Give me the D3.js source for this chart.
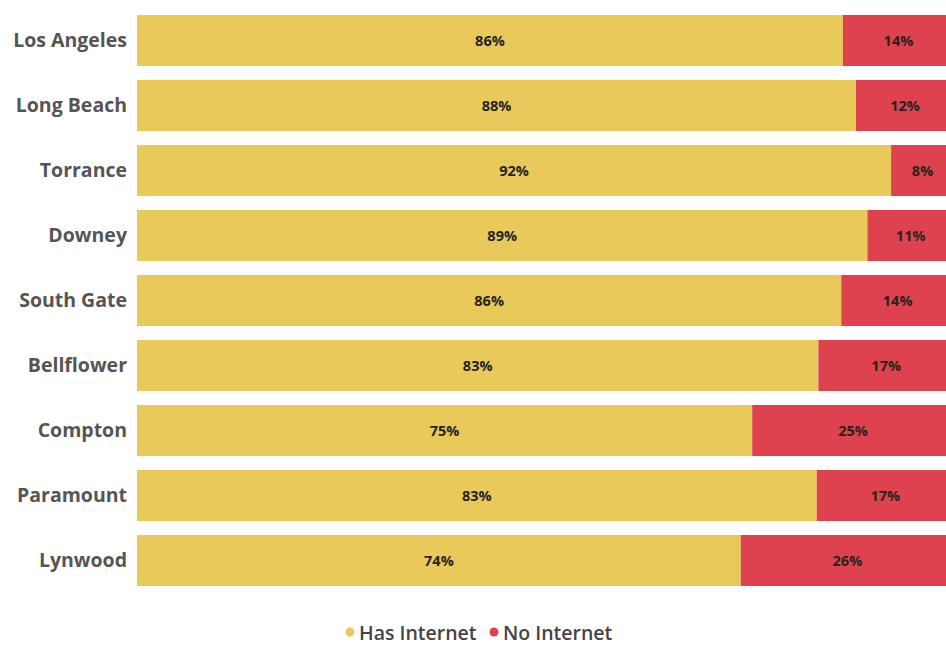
<!DOCTYPE html>
<html><head><meta charset="utf-8">
<script src="https://cdn.jsdelivr.net/npm/d3@7"></script>
<style>body{margin:0;background:#fff}svg{display:block}</style>
</head><body>
<svg id="c" width="946" height="645"></svg>
<script>
const categories = ["Los Angeles","Long Beach","Torrance","Downey","South Gate","Bellflower","Compton","Paramount","Lynwood"];
const hasInternet = [86.4, 88.0, 92.3, 89.4, 86.2, 83.4, 75.3, 83.2, 73.9];
const noInternet  = [13.6, 12.0,  7.7, 10.6, 13.8, 16.6, 24.7, 16.8, 26.1];
const seriesNames = ["Has Internet","No Internet"];
const colors = ["#E8C95A","#DF424F"];

const svg = d3.select("#c");
const x = d3.scaleLinear().domain([0,100]).range([137,954]);
const y = d3.scaleBand().domain(categories).range([8,593]).paddingInner(14/65).paddingOuter(7/65);

const rows = categories.map((c,i)=>({cat:c, has:hasInternet[i], no:noInternet[i]}));
const stack = d3.stack().keys(["has","no"])(rows);

const g = svg.append("g");
stack.forEach((layer,li)=>{
  g.selectAll(null).data(layer).enter().append("rect")
    .attr("x",d=>x(d[0])).attr("width",d=>x(d[1])-x(d[0]))
    .attr("y",d=>y(d.data.cat)).attr("height",y.bandwidth())
    .attr("fill",colors[li]);
  g.selectAll(null).data(layer).enter().append("text")
    .attr("x",d=>(x(d[0])+x(d[1]))/2).attr("y",d=>y(d.data.cat)+y.bandwidth()/2)
    .attr("text-anchor","middle").attr("dominant-baseline","central")
    .attr("font-family","'Open Sans', sans-serif").attr("font-weight","bold").attr("font-size",14.5)
    .attr("fill","#252423")
    .text(d=>Math.round(d[1]-d[0])+"%");
});

const yAxis = d3.axisLeft(y).tickSize(0).tickPadding(10);
const ax = svg.append("g").attr("transform","translate(137,0)").call(yAxis);
ax.select(".domain").remove();
ax.selectAll("text").attr("font-family","'Open Sans', sans-serif").attr("font-weight","bold")
  .attr("font-size",19.5).attr("fill","#555555");

// legend
const leg = svg.append("g");
const legItems = [{name:seriesNames[0],color:colors[0],cx:350},{name:seriesNames[1],color:colors[1],cx:494}];
leg.selectAll("circle").data(legItems).enter().append("circle")
  .attr("cx",d=>d.cx).attr("cy",632).attr("r",4.5).attr("fill",d=>d.color);
leg.selectAll("text").data(legItems).enter().append("text")
  .attr("x",d=>d.cx+9).attr("y",632).attr("dominant-baseline","central")
  .attr("font-family","'Open Sans', sans-serif").attr("font-weight","600").attr("font-size",19.5)
  .attr("fill","#444444").text(d=>d.name);
</script>
</body></html>
